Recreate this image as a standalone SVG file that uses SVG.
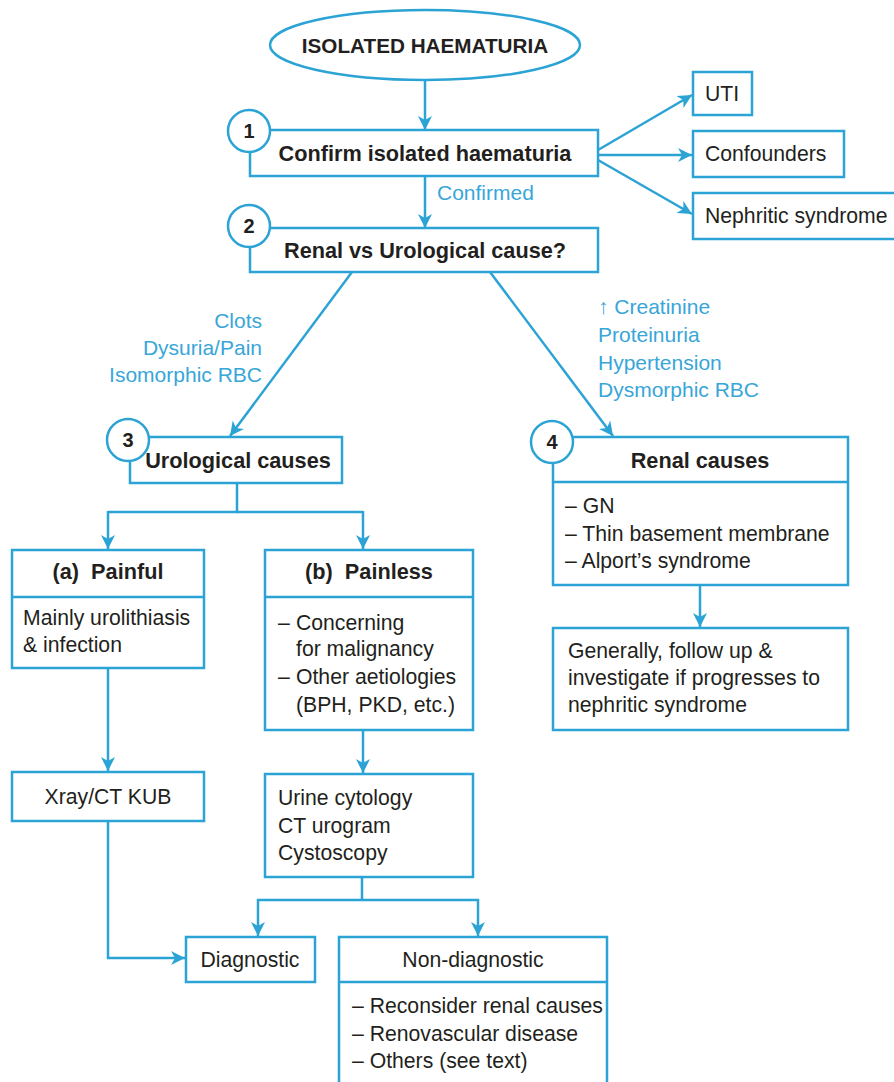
<svg xmlns="http://www.w3.org/2000/svg" width="894" height="1082" viewBox="0 0 894 1082">
<style>
.box{fill:#fff;stroke:#2ba3d5;stroke-width:2.5}
.ln{fill:none;stroke:#2ba3d5;stroke-width:2.5}
.arr{fill:none;stroke:#2ba3d5;stroke-width:2.5;marker-end:url(#ah)}
.t{font-family:"Liberation Sans",Arial,sans-serif;font-size:21.2px;fill:#231f20}
.b{font-weight:bold;font-size:21.7px}
.c{text-anchor:middle}
.lbl{font-family:"Liberation Sans",Arial,sans-serif;font-size:21px;fill:#38a6d8}
.r{text-anchor:end}
.num{font-family:"Liberation Sans",Arial,sans-serif;font-size:20px;font-weight:bold;fill:#231f20;text-anchor:middle}
</style>
<defs>
<marker id="ah" markerUnits="userSpaceOnUse" markerWidth="16" markerHeight="16" refX="14" refY="8" orient="auto">
<path d="M0,1 L14,8 L0,15 L4,8 z" fill="#2ba3d5"/>
</marker>
</defs>
<rect width="894" height="1082" fill="#fff"/>

<g id="connectors">
<line class="arr" x1="425" y1="80" x2="425" y2="130"/>
<line class="arr" x1="598" y1="150" x2="692" y2="95"/>
<line class="arr" x1="598" y1="155" x2="692" y2="155"/>
<line class="arr" x1="598" y1="160" x2="692" y2="214"/>
<line class="arr" x1="425" y1="176" x2="425" y2="228"/>
<line class="arr" x1="352" y1="272" x2="230" y2="436"/>
<line class="arr" x1="490" y1="272" x2="613" y2="436"/>
<polyline class="ln" points="237,483 237,512 108,512"/>
<line class="ln" x1="237" y1="512" x2="363" y2="512"/>
<line class="arr" x1="108" y1="511" x2="108" y2="549"/>
<line class="arr" x1="363" y1="511" x2="363" y2="549"/>
<line class="arr" x1="700" y1="585" x2="700" y2="627"/>
<line class="arr" x1="108" y1="668" x2="108" y2="771"/>
<line class="arr" x1="363" y1="730" x2="363" y2="773"/>
<polyline class="arr" points="108,821 108,958 185,958"/>
<line class="ln" x1="362" y1="877" x2="362" y2="900"/>
<line class="ln" x1="257" y1="900" x2="479" y2="900"/>
<line class="arr" x1="258" y1="899" x2="258" y2="936"/>
<line class="arr" x1="478" y1="899" x2="478" y2="936"/>
</g>

<g id="start">
<ellipse class="box" cx="425" cy="45" rx="155" ry="35"/>
<text class="t b c" x="425" y="53" style="font-size:20.7px">ISOLATED HAEMATURIA</text>
</g>

<g id="n1">
<rect class="box" x="250" y="130" width="348" height="46"/>
<text class="t b c" x="425" y="161">Confirm isolated haematuria</text>
</g>

<g id="uti">
<rect class="box" x="693" y="72" width="59" height="43"/>
<text class="t" x="705" y="101">UTI</text>
</g>
<g id="confounders">
<rect class="box" x="693" y="131" width="151" height="46"/>
<text class="t" x="705" y="161">Confounders</text>
</g>
<g id="nephritic">
<rect class="box" x="693" y="193" width="210" height="46"/>
<text class="t" x="705" y="223">Nephritic syndrome</text>
</g>

<g id="label-confirmed">
<text class="lbl" x="437" y="200">Confirmed</text>
</g>

<g id="n2">
<rect class="box" x="250" y="228" width="348" height="44"/>
<text class="t b c" x="425" y="258">Renal vs Urological cause?</text>
</g>

<g id="label-uro">
<text class="lbl r" x="262" y="328">Clots</text>
<text class="lbl r" x="262" y="355">Dysuria/Pain</text>
<text class="lbl r" x="262" y="382">Isomorphic RBC</text>
</g>

<g id="label-renal">
<text class="lbl" x="598" y="314">↑ Creatinine</text>
<text class="lbl" x="598" y="342">Proteinuria</text>
<text class="lbl" x="598" y="370">Hypertension</text>
<text class="lbl" x="598" y="397">Dysmorphic RBC</text>
</g>

<g id="n3">
<rect class="box" x="130" y="437" width="212" height="46"/>
<text class="t b c" x="238" y="468">Urological causes</text>
</g>

<g id="n4">
<rect class="box" x="553" y="437" width="295" height="148"/>
<line class="ln" x1="553" y1="482" x2="848" y2="482"/>
<text class="t b c" x="700" y="468">Renal causes</text>
<text class="t" x="565" y="513">– GN</text>
<text class="t" x="565" y="541">– Thin basement membrane</text>
<text class="t" x="565" y="568">– Alport’s syndrome</text>
</g>

<g id="followup">
<rect class="box" x="553" y="628" width="295" height="102"/>
<text class="t" x="568" y="658">Generally, follow up &amp;</text>
<text class="t" x="568" y="685">investigate if progresses to</text>
<text class="t" x="568" y="712">nephritic syndrome</text>
</g>

<g id="painful">
<rect class="box" x="12" y="550" width="192" height="118"/>
<line class="ln" x1="12" y1="597" x2="204" y2="597"/>
<text class="t b c" x="108" y="579" xml:space="preserve">(a)  Painful</text>
<text class="t" x="23" y="625">Mainly urolithiasis</text>
<text class="t" x="23" y="652">&amp; infection</text>
</g>

<g id="painless">
<rect class="box" x="265" y="550" width="208" height="180"/>
<line class="ln" x1="265" y1="597" x2="473" y2="597"/>
<text class="t b c" x="369" y="579" xml:space="preserve">(b)  Painless</text>
<text class="t" x="278" y="630">–</text>
<text class="t" x="296" y="630">Concerning</text>
<text class="t" x="296" y="656">for malignancy</text>
<text class="t" x="278" y="684">–</text>
<text class="t" x="296" y="684">Other aetiologies</text>
<text class="t" x="296" y="712">(BPH, PKD, etc.)</text>
</g>

<g id="xray">
<rect class="box" x="12" y="772" width="192" height="49"/>
<text class="t c" x="108" y="804">Xray/CT KUB</text>
</g>

<g id="urine">
<rect class="box" x="265" y="774" width="208" height="103"/>
<text class="t" x="278" y="805">Urine cytology</text>
<text class="t" x="278" y="833">CT urogram</text>
<text class="t" x="278" y="860">Cystoscopy</text>
</g>

<g id="diagnostic">
<rect class="box" x="186" y="937" width="129" height="45"/>
<text class="t c" x="250" y="967">Diagnostic</text>
</g>

<g id="nondiagnostic">
<rect class="box" x="339" y="937" width="268" height="160"/>
<line class="ln" x1="339" y1="982" x2="607" y2="982"/>
<text class="t c" x="473" y="967">Non-diagnostic</text>
<text class="t" x="352" y="1013">– Reconsider renal causes</text>
<text class="t" x="352" y="1041">– Renovascular disease</text>
<text class="t" x="352" y="1068">– Others (see text)</text>
</g>

<g id="step-numbers">
<circle class="box" cx="249" cy="131" r="21"/>
<text class="num" x="249" y="138">1</text>
<circle class="box" cx="249" cy="226" r="21"/>
<text class="num" x="249" y="233">2</text>
<circle class="box" cx="128" cy="440" r="21"/>
<text class="num" x="128" y="447">3</text>
<circle class="box" cx="552" cy="442" r="21"/>
<text class="num" x="552" y="449">4</text>
</g>
</svg>
